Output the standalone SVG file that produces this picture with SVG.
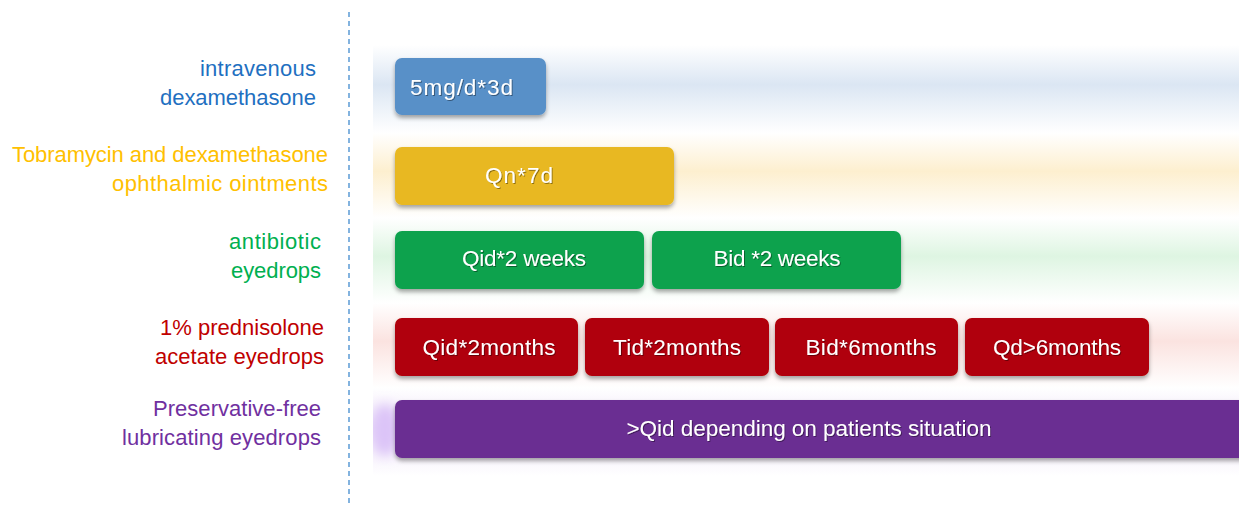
<svg xmlns="http://www.w3.org/2000/svg" width="1239" height="506" viewBox="0 0 1239 506">
<style>
.lbl{font-family:"Liberation Sans",Arial,sans-serif;font-size:22px;text-anchor:end}
.bt{font-family:"Liberation Sans",Arial,sans-serif;font-size:22.5px;fill:#fff;text-anchor:middle;filter:url(#ts)}
.box{filter:url(#sh)}
</style>
<defs>
<filter id="sh" x="-5%" y="-20%" width="110%" height="150%"><feDropShadow dx="0" dy="3" stdDeviation="2" flood-color="#000" flood-opacity="0.35"/></filter>
<filter id="ts" x="-5%" y="-20%" width="110%" height="150%"><feDropShadow dx="1" dy="1" stdDeviation="0.6" flood-color="#000" flood-opacity="0.4"/></filter>
<filter id="bl" x="-100%" y="-50%" width="300%" height="200%"><feGaussianBlur stdDeviation="6"/></filter>
<linearGradient id="gb" x1="0" y1="0" x2="0" y2="1"><stop offset="0" stop-color="#fff"/><stop offset="0.45" stop-color="#dbe6f3"/><stop offset="1" stop-color="#fff"/></linearGradient>
<linearGradient id="gy" x1="0" y1="0" x2="0" y2="1"><stop offset="0" stop-color="#fff"/><stop offset="0.45" stop-color="#fdefcf"/><stop offset="1" stop-color="#fff"/></linearGradient>
<linearGradient id="gg" x1="0" y1="0" x2="0" y2="1"><stop offset="0" stop-color="#fff"/><stop offset="0.45" stop-color="#def5e2"/><stop offset="1" stop-color="#fff"/></linearGradient>
<linearGradient id="gr" x1="0" y1="0" x2="0" y2="1"><stop offset="0" stop-color="#fff"/><stop offset="0.45" stop-color="#fbe3e0"/><stop offset="1" stop-color="#fff"/></linearGradient>
<linearGradient id="gp" x1="0" y1="0" x2="0" y2="1"><stop offset="0" stop-color="#fff"/><stop offset="0.45" stop-color="#ede2f8"/><stop offset="1" stop-color="#fff"/></linearGradient>
<clipPath id="bc"><rect x="373" y="0" width="866" height="506"/></clipPath>
</defs>
<g id="bands">
<rect x="373" y="45" width="866" height="88" fill="url(#gb)"/>
<rect x="373" y="133" width="866" height="85" fill="url(#gy)"/>
<rect x="373" y="218" width="866" height="85" fill="url(#gg)"/>
<rect x="373" y="303" width="866" height="85" fill="url(#gr)"/>
<rect x="373" y="388" width="866" height="88" fill="url(#gp)"/>
<g clip-path="url(#bc)"><ellipse cx="385" cy="430" rx="14" ry="26" fill="#dcc4f8" filter="url(#bl)"/></g>
</g>
<line x1="349" y1="12" x2="349" y2="506" stroke="#5b9bd5" stroke-width="1.5" stroke-dasharray="5,4"/>
<g id="labels">
<g id="lbl-iv" fill="#1f70c1"><text class="lbl" x="316" y="76" textLength="116">intravenous</text><text class="lbl" x="316" y="105" textLength="156">dexamethasone</text></g>
<g id="lbl-tob" fill="#ffc000"><text class="lbl" x="328" y="162" textLength="316">Tobramycin and dexamethasone</text><text class="lbl" x="328" y="191" textLength="216">ophthalmic ointments</text></g>
<g id="lbl-ab" fill="#00b050"><text class="lbl" x="321" y="249" textLength="92">antibiotic</text><text class="lbl" x="321" y="278" textLength="90">eyedrops</text></g>
<g id="lbl-pred" fill="#c00000"><text class="lbl" x="324" y="335" textLength="164">1% prednisolone</text><text class="lbl" x="324" y="364" textLength="169">acetate eyedrops</text></g>
<g id="lbl-lub" fill="#7030a0"><text class="lbl" x="321" y="416" textLength="168">Preservative-free</text><text class="lbl" x="321" y="445" textLength="199">lubricating eyedrops</text></g>
</g>
<g id="n1"><rect class="box" x="395" y="58" width="151" height="57" rx="7" fill="#5890c8"/><text class="bt" x="410" y="95" style="text-anchor:start" textLength="103">5mg/d*3d</text></g>
<g id="n2"><rect class="box" x="395" y="147" width="279" height="58" rx="7" fill="#e8b820"/><text class="bt" x="519" y="183" textLength="68">Qn*7d</text></g>
<g id="n3"><rect class="box" x="395" y="231" width="249" height="58" rx="7" fill="#08a24d"/><text class="bt" x="524" y="266" textLength="124">Qid*2 weeks</text></g>
<g id="n4"><rect class="box" x="652" y="231" width="249" height="58" rx="7" fill="#08a24d"/><text class="bt" x="777" y="266" textLength="127">Bid *2 weeks</text></g>
<g id="n5"><rect class="box" x="395" y="318" width="183" height="58" rx="7" fill="#b00607"/><text class="bt" x="489" y="355" textLength="133">Qid*2months</text></g>
<g id="n6"><rect class="box" x="585" y="318" width="184" height="58" rx="7" fill="#b00607"/><text class="bt" x="677" y="355" textLength="128">Tid*2months</text></g>
<g id="n7"><rect class="box" x="775" y="318" width="183" height="58" rx="7" fill="#b00607"/><text class="bt" x="871" y="355" textLength="131">Bid*6months</text></g>
<g id="n8"><rect class="box" x="965" y="318" width="184" height="58" rx="7" fill="#b00607"/><text class="bt" x="1057" y="355" textLength="128">Qd&gt;6months</text></g>
<g id="n9"><rect class="box" x="395" y="400" width="870" height="58" rx="7" fill="#6a2f92"/><text class="bt" x="809" y="436" textLength="365">&gt;Qid depending on patients situation</text></g>
<g id="connectors"/>
</svg>
